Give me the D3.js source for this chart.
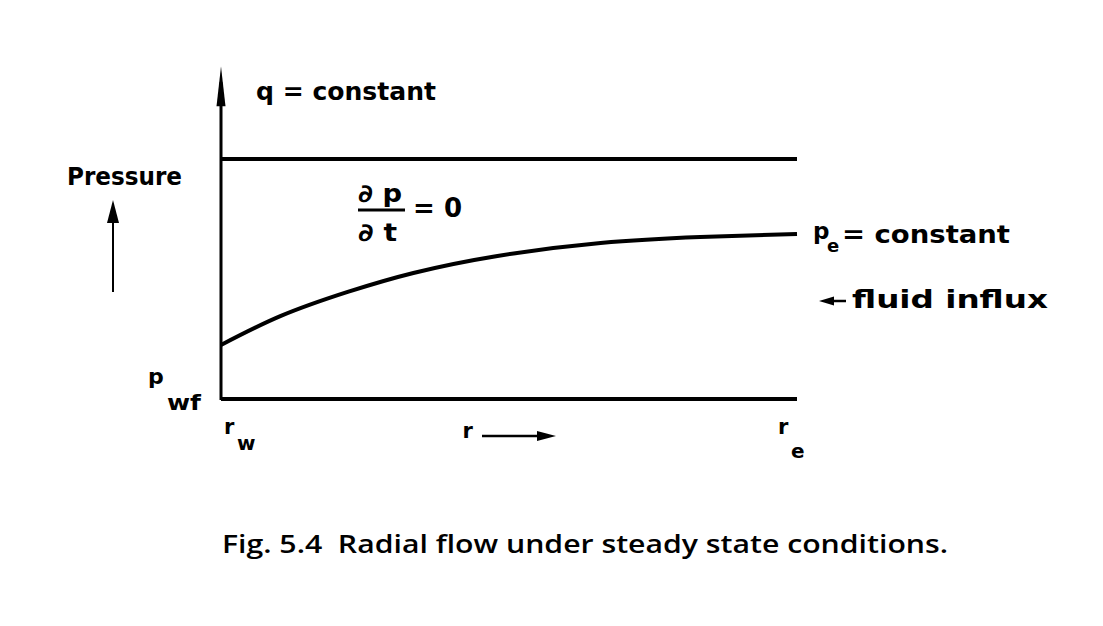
<!DOCTYPE html>
<html><head><meta charset="utf-8">
<script src="https://cdn.jsdelivr.net/npm/d3@7"></script>
<style>body{margin:0;background:#fff}svg{display:block}text{white-space:pre}</style>
</head><body>
<svg id="chart" width="1103" height="626"></svg>
<script>
// ---- data (relative units: r from r_w=0 to r_e=100, pressure 0..100) ----
const radius   = [0, 10.4, 22, 33.4, 48, 65.9, 83.2, 100];
const pressure = [22.5, 34.6, 44.6, 52.5, 59.6, 65, 67.5, 68.8];
const rateR    = [0, 100];
const rateLine = [100, 100];          // q = constant level
const xTickMain = ["r", "r", "r"];
const xTickSub  = ["w", "", "e"];
const xTickAt   = [0, 41.4, 96.2];
const yLabel = "Pressure";
const caption = "Fig. 5.4  Radial flow under steady state conditions.";

const svg = d3.select("#chart");
const x = d3.scaleLinear().domain([0, 100]).range([221, 797]);
const y = d3.scaleLinear().domain([0, 100]).range([399, 159]);
const font = "DejaVu Sans";

// axes
svg.append("line").attr("x1", x(0)).attr("x2", x(0)).attr("y1", y(0) + 1).attr("y2", y(132))
  .attr("stroke", "#000").attr("stroke-width", 3);
svg.append("path")
  .attr("d", `M${x(0)},${y(138.5)} L${x(0)+4.5},${y(122)} L${x(0)-4.5},${y(122)} Z`)
  .attr("fill", "#000");
svg.append("line").attr("x1", x(0)).attr("x2", x(100)).attr("y1", y(0)).attr("y2", y(0))
  .attr("stroke", "#000").attr("stroke-width", 4);

// q = constant line
svg.append("path").datum(rateR.map((r, i) => [r, rateLine[i]]))
  .attr("d", d3.line().x(d => x(d[0])).y(d => y(d[1])))
  .attr("stroke", "#000").attr("stroke-width", 4).attr("fill", "none");

// pressure profile
svg.append("path").datum(radius.map((r, i) => [r, pressure[i]]))
  .attr("d", d3.line().x(d => x(d[0])).y(d => y(d[1])).curve(d3.curveNatural))
  .attr("stroke", "#000").attr("stroke-width", 4).attr("fill", "none");

function txt(t, px, py, size, opts = {}) {
  const e = svg.append("text").attr("x", px).attr("y", py)
    .attr("font-family", opts.family || font).attr("font-size", size)
    .attr("font-weight", opts.weight || "bold").attr("fill", "#000").text(t);
  if (opts.len) e.attr("textLength", opts.len).attr("lengthAdjust", "spacingAndGlyphs");
  return e;
}

// labels
txt("q = constant", 256, 100, 25, {len: 180});
txt(yLabel, 67, 185, 25, {len: 115});
// small Pressure arrow
svg.append("line").attr("x1", 113).attr("x2", 113).attr("y1", 218).attr("y2", 292)
  .attr("stroke", "#000").attr("stroke-width", 2);
svg.append("path").attr("d", "M113,200 L119,223 L107,223 Z").attr("fill", "#000");

// dp/dt = 0
txt("\u2202 p", 358, 202, 25, {len: 44});
svg.append("line").attr("x1", 358).attr("x2", 405).attr("y1", 210).attr("y2", 210)
  .attr("stroke", "#000").attr("stroke-width", 3);
txt("\u2202 t", 358, 241, 25, {len: 39});
txt("= 0", 413, 217, 26, {len: 49});

// p_e = constant
txt("p", 813, 239, 23);
txt("e", 827, 252, 18);
txt("= constant", 842, 243, 24, {len: 168});

// fluid influx
svg.append("line").attr("x1", 830).attr("x2", 846).attr("y1", 301).attr("y2", 301)
  .attr("stroke", "#000").attr("stroke-width", 2.5);
svg.append("path").attr("d", "M819,301 L834,296.5 L834,305.5 Z").attr("fill", "#000");
txt("fluid influx", 852, 308, 24, {len: 196});

// p_wf
txt("p", 148, 384, 22);
txt("wf", 167, 410, 21, {len: 34});

// x tick labels
xTickMain.forEach((m, i) => {
  const px = x(xTickAt[i]);
  txt(m, px + 3, i === 1 ? 438 : 434, 21);
  if (xTickSub[i]) txt(xTickSub[i], px + 16, i === 2 ? 458 : 450, 20);
});
// r arrow
svg.append("line").attr("x1", 482).attr("x2", 540).attr("y1", 436).attr("y2", 436)
  .attr("stroke", "#000").attr("stroke-width", 2.5);
svg.append("path").attr("d", "M556,436 L537,431 L537,441 Z").attr("fill", "#000");

// caption
txt(caption, 222, 553, 26, {family: "Open Sans", weight: "600", len: 726});
</script>
</body></html>
